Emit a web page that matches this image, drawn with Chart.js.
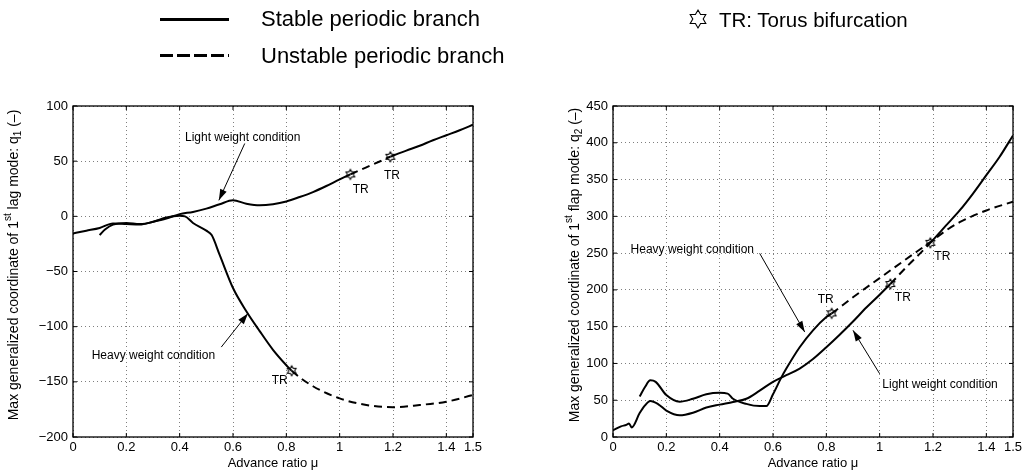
<!DOCTYPE html>
<html>
<head>
<meta charset="utf-8">
<script src="https://cdn.jsdelivr.net/npm/chart.js@4.4.0/dist/chart.umd.min.js"></script>
<style>
  body { margin: 0; background: #fff; }
  #wrap { position: relative; width: 1026px; height: 474px; overflow: hidden; font-family: "Liberation Sans", Arial, sans-serif; }
  .panel { position: absolute; top: 0; width: 513px; height: 474px; }
  .leg { position: absolute; font-size: 22px; line-height: 22px; color: #000; white-space: nowrap; }
  .solid { position: absolute; left: 160px; top: 18px; width: 69px; height: 3px; background: #000; }
  .dashed { position: absolute; left: 160px; top: 54px; width: 69px; height: 3px;
            background: repeating-linear-gradient(to right, #000 0 13px, transparent 13px 17px); }
</style>
</head>
<body>
<div id="wrap">
  <div class="panel" style="left:0"><canvas id="lagChart"></canvas></div>
  <div class="panel" style="left:513px"><canvas id="flapChart"></canvas></div>

  <div class="solid"></div>
  <div class="leg" style="left:261px; top:8px">Stable periodic branch</div>
  <div class="dashed"></div>
  <div class="leg" style="left:261px; top:45px">Unstable periodic branch</div>
  <svg class="leg" style="left:688px; top:8px" width="20" height="22" viewBox="-10 -11 20 22">
    <polygon id="legStar" fill="none" stroke="#000" stroke-width="1.1"></polygon>
  </svg>
  <div class="leg" style="left:719px; top:9px; font-size:20.5px">TR: Torus bifurcation</div>
</div>

<script>
// x axis (advance ratio mu), shared by both panels
const xTicks = [0, 0.2, 0.4, 0.6, 0.8, 1, 1.2, 1.4, 1.5];

// left panel: 1st lag mode q1
const lagLightMu = [0, 0.05, 0.1, 0.15, 0.2, 0.25, 0.3, 0.35, 0.4, 0.45, 0.5, 0.55, 0.6, 0.65, 0.7, 0.75, 0.8, 0.85, 0.9, 0.95, 1.0, 1.04, 1.1, 1.15, 1.19, 1.25, 1.3, 1.35, 1.4, 1.45, 1.5];
const lagLightQ  = [-15.5, -13, -10.5, -6.5, -7, -7.5, -5, -2, 2, 4, 7, 11, 14.5, 11.5, 10, 11, 13.5, 17.5, 22, 27.5, 33.5, 38, 44.4, 49.7, 54, 59.5, 64, 69, 73.5, 78, 83];
const lagLightUnstable = [1.04, 1.19];

const lagHeavyMu = [0.1, 0.12, 0.15, 0.2, 0.25, 0.3, 0.35, 0.4, 0.42, 0.45, 0.5, 0.52, 0.55, 0.6, 0.65, 0.7, 0.75, 0.8, 0.82, 0.9, 1.0, 1.1, 1.2, 1.3, 1.4, 1.5];
const lagHeavyQ  = [-17, -12, -7.5, -6, -7, -5, -1, 0.5, 0, -6, -13, -17, -35, -65, -86, -104, -121, -135, -140, -154, -165, -171, -173, -171, -168, -162];
const lagHeavyUnstable = [0.82, 1.5];

const lagTrMu = [0.82, 1.04, 1.19];
const lagTrQ  = [-140, 38, 54];
const lagTicks = [-200, -150, -100, -50, 0, 50, 100];

// right panel: 1st flap mode q2
const flapLightMu = [0, 0.03, 0.05, 0.06, 0.07, 0.1, 0.12, 0.14, 0.17, 0.2, 0.25, 0.3, 0.35, 0.4, 0.45, 0.5, 0.55, 0.6, 0.65, 0.7, 0.75, 0.8, 0.85, 0.9, 0.95, 1.0, 1.04, 1.1, 1.15, 1.19, 1.25, 1.3, 1.35, 1.4, 1.45, 1.5];
const flapLightQ  = [9, 14.5, 16.5, 18.5, 13, 32.5, 43, 49, 44.5, 36, 29.5, 33, 40, 44, 47.5, 52, 63, 75, 84, 93, 106, 122, 139, 157, 176, 193.5, 208, 231, 249, 264, 288, 308, 331, 356, 381, 410];
const flapLightUnstable = [1.04, 1.19];

const flapHeavyMu = [0.1, 0.12, 0.14, 0.16, 0.2, 0.25, 0.3, 0.35, 0.4, 0.43, 0.45, 0.5, 0.55, 0.575, 0.6, 0.63, 0.65, 0.7, 0.75, 0.8, 0.82, 0.9, 1.0, 1.1, 1.19, 1.25, 1.3, 1.4, 1.5];
const flapHeavyQ  = [55, 68, 77, 75, 57, 48, 52, 58, 60, 59, 52, 45, 42, 42, 58, 80, 93, 122, 145, 163, 168, 190, 216, 242, 265, 281, 292, 308, 320];
const flapHeavyUnstable = [0.82, 1.5];

const flapTrMu = [0.82, 1.04, 1.19];
const flapTrQ  = [168, 208, 264];
const flapTicks = [0, 50, 100, 150, 200, 250, 300, 350, 400, 450];

const FONT = '"Liberation Sans", Arial, sans-serif';
Chart.defaults.font.family = FONT;
Chart.defaults.color = '#000';

// hexagram outline (12 vertices), points up
function starPoints(r) {
  const pts = [];
  for (let k = 0; k < 12; k++) {
    const ang = -Math.PI / 2 + k * Math.PI / 6;
    const rr = k % 2 === 0 ? r : r / Math.sqrt(3);
    pts.push([rr * Math.cos(ang), rr * Math.sin(ang)]);
  }
  return pts;
}
document.getElementById('legStar').setAttribute('points',
  starPoints(9).map(p => p[0].toFixed(2) + ',' + p[1].toFixed(2)).join(' '));

function makeStar(r) {
  const c = document.createElement('canvas');
  const s = Math.ceil(2 * r + 4);
  c.width = c.height = s;
  const g = c.getContext('2d');
  g.translate(s / 2, s / 2);
  g.beginPath();
  starPoints(r).forEach((p, i) => i ? g.lineTo(p[0], p[1]) : g.moveTo(p[0], p[1]));
  g.closePath();
  g.fillStyle = '#fff';
  g.fill();
  g.strokeStyle = '#000';
  g.lineWidth = 1.1;
  g.stroke();
  return c;
}
const trStar = makeStar(5);

const pts = (xs, ys) => xs.map((x, i) => ({ x: x, y: ys[i] }));

function branch(xs, ys, unstable) {
  return {
    data: pts(xs, ys),
    showLine: true,
    borderColor: '#000',
    borderWidth: 2,
    pointRadius: 0,
    cubicInterpolationMode: 'monotone',
    segment: {
      borderDash: ctx => (ctx.p0.parsed.x >= unstable[0] - 1e-6 && ctx.p1.parsed.x <= unstable[1] + 1e-6) ? [8, 5] : undefined
    }
  };
}

function arrow(ctx, x1, y1, x2, y2) {
  ctx.beginPath();
  ctx.moveTo(x1, y1);
  ctx.lineTo(x2, y2);
  ctx.stroke();
  const ang = Math.atan2(y2 - y1, x2 - x1), L = 11, W = 3.5;
  const bx = x2 - L * Math.cos(ang), by = y2 - L * Math.sin(ang);
  ctx.beginPath();
  ctx.moveTo(x2, y2);
  ctx.lineTo(bx + W * Math.sin(ang), by - W * Math.cos(ang));
  ctx.lineTo(bx - W * Math.sin(ang), by + W * Math.cos(ang));
  ctx.closePath();
  ctx.fill();
}

// box, inward ticks, axis titles and annotations
const decor = {
  id: 'decor',
  afterDraw(chart, args, o) {
    const { ctx, chartArea: a, scales: { x, y } } = chart;
    ctx.save();
    ctx.strokeStyle = '#000';
    ctx.fillStyle = '#000';
    ctx.lineWidth = 1.3;
    ctx.strokeRect(a.left, a.top, a.right - a.left, a.bottom - a.top);

    ctx.lineWidth = 1;
    ctx.beginPath();
    xTicks.forEach(v => {
      const px = x.getPixelForValue(v);
      ctx.moveTo(px, a.bottom); ctx.lineTo(px, a.bottom - 4);
      ctx.moveTo(px, a.top); ctx.lineTo(px, a.top + 4);
    });
    o.yTicks.forEach(v => {
      const py = y.getPixelForValue(v);
      ctx.moveTo(a.left, py); ctx.lineTo(a.left + 4, py);
      ctx.moveTo(a.right, py); ctx.lineTo(a.right - 4, py);
    });
    ctx.stroke();

    // x title
    ctx.font = '13px ' + FONT;
    ctx.textAlign = 'center';
    ctx.textBaseline = 'middle';
    ctx.fillText('Advance ratio \u03bc', (a.left + a.right) / 2, 463);

    // y title with superscript / subscript
    ctx.save();
    ctx.translate(o.yTitleX, 265);
    ctx.rotate(-Math.PI / 2);
    ctx.textAlign = 'left';
    const pieces = o.yTitle;
    let total = 0;
    pieces.forEach(p => {
      ctx.font = (p.sup || p.sub ? '10px ' : '14px ') + FONT;
      p.w = ctx.measureText(p.t).width;
      total += p.w;
    });
    let cx = -total / 2;
    pieces.forEach(p => {
      ctx.font = (p.sup || p.sub ? '10px ' : '14px ') + FONT;
      ctx.fillText(p.t, cx, p.sup ? -6 : p.sub ? 4 : 0);
      cx += p.w;
    });
    ctx.restore();

    // annotation texts
    ctx.font = '12px ' + FONT;
    o.labels.forEach(l => {
      ctx.textAlign = l.align || 'center';
      ctx.fillText(l.text, x.getPixelForValue(l.x), y.getPixelForValue(l.y));
    });
    // arrows
    ctx.lineWidth = 1;
    o.arrows.forEach(r => arrow(ctx,
      x.getPixelForValue(r[0]), y.getPixelForValue(r[1]),
      x.getPixelForValue(r[2]), y.getPixelForValue(r[3])));
    ctx.restore();
  }
};

function makePanel(id, datasets, yMin, yMax, yTicks, pad, extras) {
  new Chart(document.getElementById(id), {
    type: 'scatter',
    data: { datasets: datasets },
    options: {
      responsive: true,
      maintainAspectRatio: false,
      animation: false,
      layout: { padding: pad },
      plugins: { legend: { display: false }, tooltip: { enabled: false }, decor: extras },
      scales: {
        x: {
          type: 'linear', min: 0, max: 1.5,
          afterBuildTicks: s => { s.ticks = xTicks.map(v => ({ value: v })); },
          afterFit: s => { s.height = 37; },
          ticks: { autoSkip: false, maxRotation: 0, padding: 3, font: { size: 13 }, color: '#000', callback: v => String(v) },
          grid: { drawTicks: false, color: 'rgba(0,0,0,0.5)', lineWidth: 1 },
          border: { display: false, dash: [1, 3] }
        },
        y: {
          type: 'linear', min: yMin, max: yMax,
          afterBuildTicks: s => { s.ticks = yTicks.map(v => ({ value: v })); },
          afterFit: s => { s.width = 73; },
          ticks: { autoSkip: false, padding: 5, font: { size: 13 }, color: '#000', callback: v => String(v).replace('-', '\u2212') },
          grid: { drawTicks: false, color: 'rgba(0,0,0,0.5)', lineWidth: 1 },
          border: { display: false, dash: [1, 3] }
        }
      }
    },
    plugins: [decor]
  });
}

makePanel('lagChart', [
  branch(lagLightMu, lagLightQ, lagLightUnstable),
  branch(lagHeavyMu, lagHeavyQ, lagHeavyUnstable),
  { data: pts(lagTrMu, lagTrQ), pointStyle: trStar, pointRadius: 5, showLine: false }
], -200, 100, lagTicks, { top: 106, right: 40, bottom: 0, left: 0 }, {
  yTicks: lagTicks,
  yTitleX: 14,
  yTitle: [{ t: 'Max generalized coordinate of 1' }, { t: 'st', sup: true }, { t: ' lag mode: q' }, { t: '1', sub: true }, { t: ' (\u2013)' }],
  labels: [
    { text: 'Light weight condition', x: 0.42, y: 71, align: 'left' },
    { text: 'Heavy weight condition', x: 0.07, y: -126, align: 'left' },
    { text: 'TR', x: 0.775, y: -149 },
    { text: 'TR', x: 1.079, y: 24 },
    { text: 'TR', x: 1.196, y: 37 }
  ],
  arrows: [
    [0.644, 66, 0.547, 14.5],
    [0.556, -118.5, 0.656, -88]
  ]
});

makePanel('flapChart', [
  branch(flapLightMu, flapLightQ, flapLightUnstable),
  branch(flapHeavyMu, flapHeavyQ, flapHeavyUnstable),
  { data: pts(flapTrMu, flapTrQ), pointStyle: trStar, pointRadius: 5, showLine: false }
], 0, 450, flapTicks, { top: 106, right: 13, bottom: 0, left: 27 }, {
  yTicks: flapTicks,
  yTitleX: 62,
  yTitle: [{ t: 'Max generalized coordinate of 1' }, { t: 'st', sup: true }, { t: ' flap mode: q' }, { t: '2', sub: true }, { t: ' (\u2013)' }],
  labels: [
    { text: 'Heavy weight condition', x: 0.066, y: 254, align: 'left' },
    { text: 'Light weight condition', x: 1.01, y: 71.6, align: 'left' },
    { text: 'TR', x: 0.7975, y: 186 },
    { text: 'TR', x: 1.087, y: 190 },
    { text: 'TR', x: 1.235, y: 245 }
  ],
  arrows: [
    [0.55, 249.7, 0.719, 142.7],
    [1.0, 86, 0.9, 145]
  ]
});
</script>
</body>
</html>
